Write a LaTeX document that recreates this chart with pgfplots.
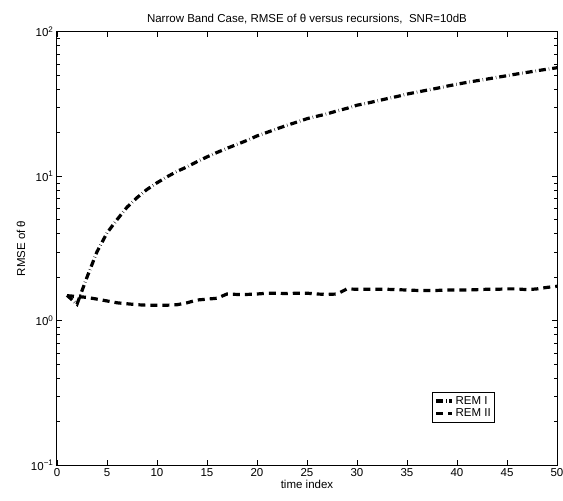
\documentclass[border=0pt]{standalone}
\usepackage{fontspec}
\setmainfont{Liberation Sans}
\usepackage{pgfplots}
\usepackage{pgfplotstable}
\pgfplotsset{compat=1.18}

% RMSE of theta per recursion for both estimators
\pgfplotstableread{
x  remI  remII
1  1.50  1.49
2  1.30  1.47
3  2.00  1.45
4  3.00  1.41
5  4.05  1.37
6  5.00  1.33
7  6.10  1.31
8  7.10  1.29
9  8.10  1.28
10 9.00  1.28
11 9.90  1.28
12 10.8  1.29
13 11.6  1.33
14 12.6  1.39
15 13.6  1.41
16 14.6  1.43
17 15.6  1.53
18 16.6  1.52
19 17.7  1.52
20 19.0  1.53
21 20.1  1.55
22 21.3  1.55
23 22.5  1.54
24 23.7  1.55
25 25.0  1.55
26 26.0  1.53
27 27.0  1.52
28 28.3  1.53
29 29.5  1.66
30 31.0  1.65
31 32.0  1.65
32 33.2  1.65
33 34.4  1.65
34 35.6  1.64
35 37.0  1.63
36 38.2  1.62
37 39.4  1.62
38 40.6  1.62
39 42.0  1.63
40 43.3  1.63
41 44.6  1.63
42 45.8  1.64
43 47.0  1.65
44 48.3  1.65
45 49.6  1.66
46 51.0  1.66
47 52.3  1.64
48 53.7  1.66
49 55.0  1.70
50 56.3  1.73
}\rmsedata

\begin{document}
\begin{tikzpicture}
\begin{axis}[
  scale only axis,
  width=500pt, height=433.5pt,
  xmin=0, xmax=50, ymin=0.1, ymax=100,
  ymode=log,
  xtick={0,5,...,50},
  ytick={0.1,1,10,100},
  yticklabels={10\textsuperscript{−1},10\textsuperscript{0},10\textsuperscript{1},10\textsuperscript{2}},
  minor ytick={0.2,0.3,0.4,0.5,0.6,0.7,0.8,0.9,2,3,4,5,6,7,8,9,20,30,40,50,60,70,80,90},
  /pgf/number format/assume math mode=true,
  tick label style={font=\fontsize{11.5}{13}\selectfont},
  axis line style={line width=1pt},
  tick style={black, line width=0.5pt},
  major tick length=5pt, minor tick length=3pt,
  title={Narrow Band Case, RMSE of θ versus recursions,\ \ SNR=10dB},
  title style={font=\fontsize{11.5}{13}\selectfont, yshift=-2pt},
  xlabel={time index},
  ylabel={RMSE of θ},
  label style={font=\fontsize{11.5}{13}\selectfont},
  xlabel style={yshift=4pt},
  ylabel style={yshift=-1pt},
  legend cell align=left,
  legend style={at={(0.75,0.169)}, anchor=north west,
    font=\fontsize{11.5}{12}\selectfont, draw=black, line width=0.9pt,
    inner sep=2pt, row sep=-1pt},
  legend image code/.code={\draw[#1] (0pt,0pt) -- (16pt,0pt);},
]
\addplot[black, line width=3.2pt, dash pattern=on 7pt off 3pt on 0.4pt off 3pt]
  table[x=x, y=remI] {\rmsedata};
\addplot[black, line width=3.2pt, dash pattern=on 7pt off 5pt]
  table[x=x, y=remII] {\rmsedata};
\legend{REM I, REM II}
\end{axis}
\pgfresetboundingbox
\path[use as bounding box] ([shift={(-57pt,-35pt)}]current axis.south west)
  rectangle ([shift={(6pt,31.7pt)}]current axis.north east);
\end{tikzpicture}
\end{document}
